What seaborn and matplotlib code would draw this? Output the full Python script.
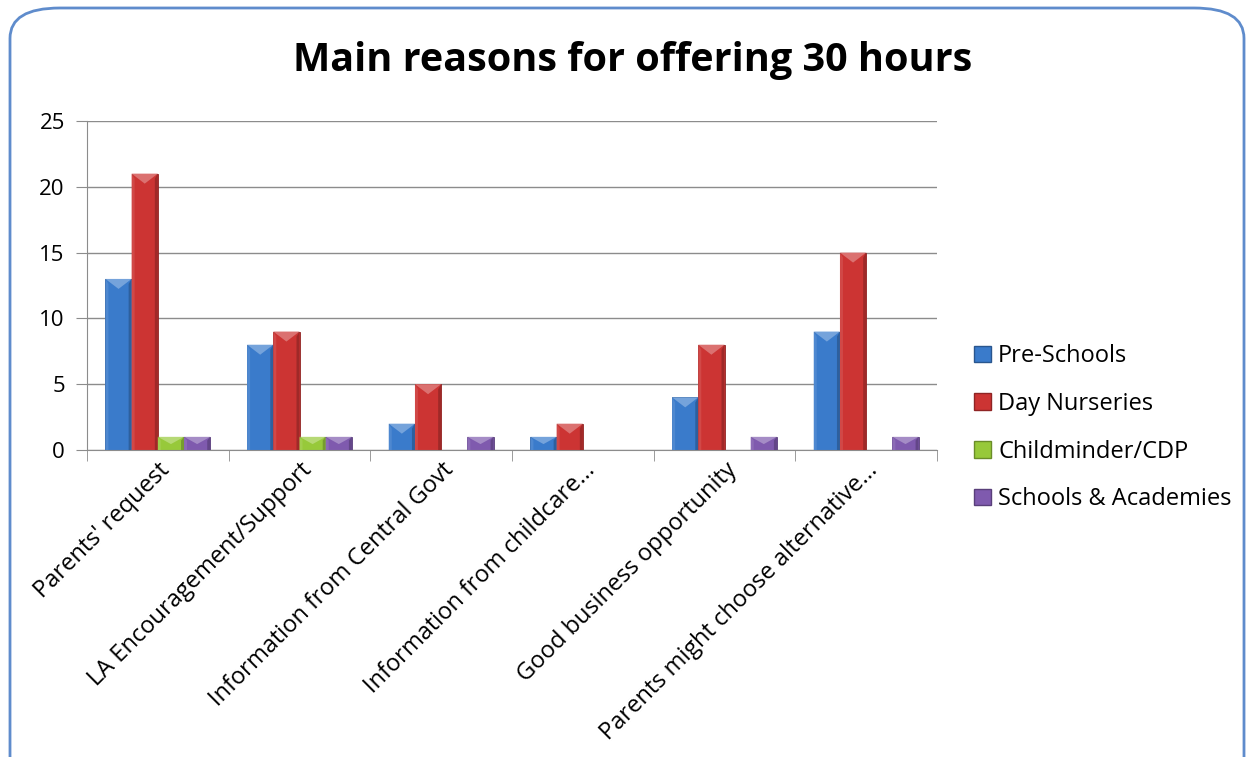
import pandas as pd
import seaborn as sns
import matplotlib.pyplot as plt
from matplotlib.patches import FancyBboxPatch, Polygon, Patch
from matplotlib.colors import to_rgb

# data
reasons = ["Parents' request", "LA Encouragement/Support", "Information from Central Govt",
           "Information from childcare...", "Good business opportunity",
           "Parents might choose alternative..."]
series = ["Pre-Schools", "Day Nurseries", "Childminder/CDP", "Schools & Academies"]
pre_schools = [13, 8, 2, 1, 4, 9]
day_nurseries = [21, 9, 5, 2, 8, 15]
childminder = [1, 1, 0, 0, 0, 0]
schools = [1, 1, 1, 0, 1, 1]
colours = ["#3a7bcb", "#cc3433", "#97c93a", "#7f5aae"]

df = pd.DataFrame({"reason": reasons * 4,
                   "series": [s for s in series for _ in reasons],
                   "count": pre_schools + day_nurseries + childminder + schools})


def shade(c, f):
    r, g, b = to_rgb(c)
    if f > 1:
        return tuple(v + (1 - v) * (f - 1) for v in (r, g, b))
    return (r * f, g * f, b * f)


sns.set_style("white")
plt.rcParams['font.family'] = ['Open Sans', 'DejaVu Sans']
plt.rcParams['text.color'] = 'black'
plt.rcParams['xtick.color'] = 'black'
plt.rcParams['ytick.color'] = 'black'

fig = plt.figure(figsize=(12.49, 7.57), dpi=100)
# rounded chart border
border = FancyBboxPatch((10/1249, -0.05), 1234/1249, 1 - 8/757 + 0.05,
                        boxstyle="round,pad=0,rounding_size=0.04",
                        transform=fig.transFigure, facecolor="white",
                        edgecolor="#5f8ccc", linewidth=2, zorder=-5)
fig.patches.append(border)

ax = fig.add_axes([87/1249, 1 - 450/757, 850/1249, 329/757])
ax.patch.set_alpha(0)
sns.barplot(data=df, x="reason", y="count", hue="series", palette=colours,
            width=0.74, gap=0, ax=ax, linewidth=0, saturation=1, legend=False)

ax.set_ylim(0, 25)
ax.set_xlim(-0.5, 5.5)

# bevel look: lighter top/left, darker right
px_x = 6 / 850
px_y = 25 / 329
for bar in list(ax.patches):
    h = bar.get_height()
    if h == 0:
        bar.set_visible(False)
        continue
    c = bar.get_facecolor()
    x0 = bar.get_x()
    x1 = x0 + bar.get_width()
    xm = (x0 + x1) / 2
    bar.set_edgecolor(shade(c, 0.7))
    bar.set_linewidth(0.6)
    bv = min(10 * px_y, h * 0.55)
    ins = 3 * px_x
    ax.add_patch(Polygon([(x0, 0), (x0, h), (x0 + ins, h - bv / 2), (x0 + ins, 0)],
                         closed=True, facecolor=shade(c, 1.1), edgecolor="none", zorder=3))
    ax.add_patch(Polygon([(x1, 0), (x1, h), (x1 - ins, h - bv / 2), (x1 - ins, 0)],
                         closed=True, facecolor=shade(c, 0.78), edgecolor="none", zorder=3))
    ax.add_patch(Polygon([(x0, h), (x1, h), (xm, h - bv)],
                         closed=True, facecolor=shade(c, 1.3), edgecolor="none", zorder=3))

ax.set_yticks(range(0, 26, 5))
ax.yaxis.grid(True, color="#8c8c8c", linewidth=1)
ax.set_axisbelow(True)
for s in ["top", "right"]:
    ax.spines[s].set_visible(False)
for s in ["left", "bottom"]:
    ax.spines[s].set_color("#8c8c8c")
ax.tick_params(axis="y", length=8, color="#8c8c8c", labelsize=16, pad=8, left=True)
ax.set_xticks([i - 0.5 for i in range(7)], minor=True)
ax.tick_params(axis="x", which="minor", length=8, color="#8c8c8c", bottom=True)
ax.tick_params(axis="x", which="major", length=0, labelsize=17, pad=6)
ax.set_xticks(range(6))
ax.set_xticklabels(reasons, rotation=45, ha="right", rotation_mode="anchor")
ax.set_xlabel("")
ax.set_ylabel("")

handles = [Patch(facecolor=c, edgecolor=shade(c, 0.7)) for c in colours]
ax.legend(handles, series, loc="upper left", bbox_to_anchor=(1.033, 0.35), frameon=False,
          fontsize=17, handlelength=0.7, handleheight=0.7, handletextpad=0.3,
          labelspacing=1.0, borderaxespad=0)

fig.text(633/1249, 1 - 60/757, "Main reasons for offering 30 hours", ha="center",
         va="center", fontsize=28.5, fontweight="bold", color="black")

plt.savefig("out.png", dpi=100)
